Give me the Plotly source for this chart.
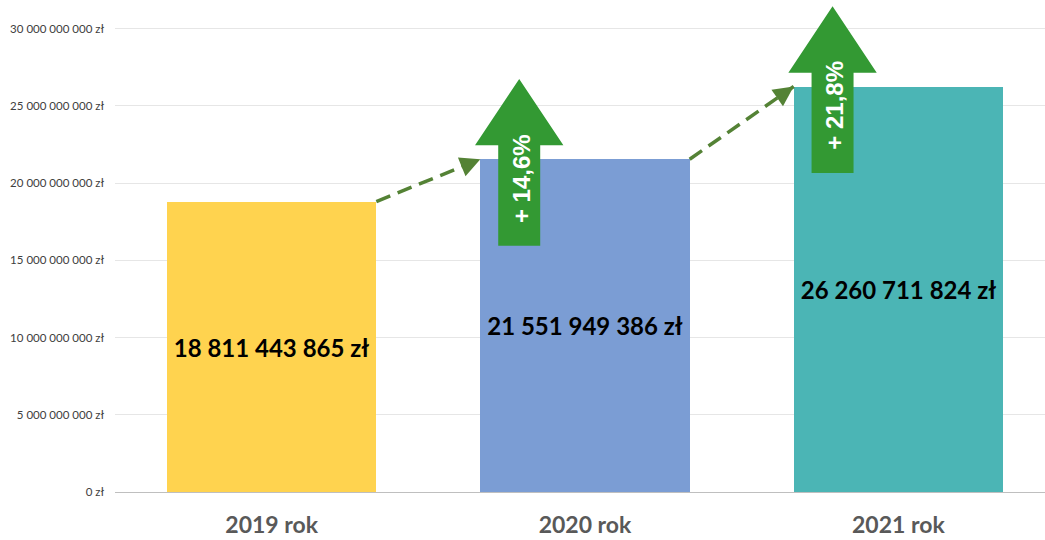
import plotly.graph_objects as go

# ---- data ----
categories = ["2019 rok", "2020 rok", "2021 rok"]
values = [18811443865, 21551949386, 26260711824]
growth_labels = ["+ 14,6%", "+ 21,8%"]
bar_colors = ["#FFD34F", "#7B9DD4", "#4BB5B5"]
y_tick_values = [0, 5e9, 10e9, 15e9, 20e9, 25e9, 30e9]

# ---- style ----
BAR_W = 0.668
ARROW_GREEN = "#339933"
DASH_GREEN = "#548235"
B = 1e9


def fmt(v):
    return f"{int(v):,}".replace(",", " ") + " zł"


xpos = list(range(len(categories)))

fig = go.Figure()
fig.add_trace(go.Bar(
    x=xpos, y=values, width=BAR_W,
    marker=dict(color=bar_colors, line=dict(width=0)),
    text=[fmt(v) for v in values],
    textposition="inside", insidetextanchor="middle", textangle=0,
    constraintext="none",
    textfont=dict(family="Lato", size=24, color="#000000", weight="bold"),
    hoverinfo="skip",
))

shapes = []
annotations = []
for i in range(1, len(values)):
    # dashed connector from previous bar's top-right to this bar's top-left
    x0, y0 = xpos[i - 1] + BAR_W / 2, values[i - 1]
    x1, y1 = xpos[i] - BAR_W / 2, values[i]
    fig.add_trace(go.Scatter(
        x=[x0, x1], y=[y0, y1], mode="lines",
        line=dict(color=DASH_GREEN, width=3.5, dash="15px,8px"),
        hoverinfo="skip", showlegend=False,
    ))
    f = 0.86
    annotations.append(dict(
        x=x1, y=y1, xref="x", yref="y",
        ax=x0 + (x1 - x0) * f, ay=y0 + (y1 - y0) * f, axref="x", ayref="y",
        text="", showarrow=True, arrowhead=2, arrowsize=1.15, arrowwidth=3.5,
        arrowcolor=DASH_GREEN, standoff=0, startstandoff=0,
    ))
    # big green up-arrow with growth label
    cx = xpos[i] - 0.21
    v = values[i]
    tip = v + 5.2 * B
    base = v + 0.9 * B
    bottom = v - 5.6 * B
    hw, sw = 0.141, 0.067
    path = (f"M{cx - sw},{bottom} L{cx - sw},{base} L{cx - hw},{base} "
            f"L{cx},{tip} L{cx + hw},{base} L{cx + sw},{base} L{cx + sw},{bottom} Z")
    shapes.append(dict(type="path", xref="x", yref="y", path=path,
                       fillcolor=ARROW_GREEN, line=dict(width=0), layer="above"))
    annotations.append(dict(
        x=cx + 0.008, y=v - 1.24 * B, xref="x", yref="y", text=growth_labels[i - 1],
        showarrow=False, textangle=-90,
        font=dict(family="Liberation Sans", size=24, color="#FFFFFF", weight="bold"),
    ))

fig.update_layout(
    width=1045, height=540,
    margin=dict(l=115, r=0, t=1, b=48, autoexpand=False),
    paper_bgcolor="#FFFFFF", plot_bgcolor="#FFFFFF",
    showlegend=False,
    shapes=shapes, annotations=annotations,
    xaxis=dict(
        range=[-0.5, 2.468], tickvals=xpos, ticktext=categories,
        showgrid=False, zeroline=False, showline=True, linecolor="#BFBFBF", linewidth=1,
        ticks="", ticklabelstandoff=12, automargin=False,
        tickfont=dict(family="Lato", size=23, color="#595959", weight="bold"),
        fixedrange=True,
    ),
    yaxis=dict(
        range=[0, 31.8 * B], tickvals=y_tick_values, ticktext=[fmt(v) for v in y_tick_values],
        showgrid=True, gridcolor="#E6E6E6", gridwidth=1, zeroline=False,
        ticks="", ticklabelstandoff=10, automargin=False,
        tickfont=dict(family="Lato", size=11.5, color="#404040"),
        fixedrange=True,
    ),
    bargap=0,
)

fig.write_html(
    "out.html",
    config={"displayModeBar": False},
    post_script="document.body.style.margin='0';document.body.style.overflow='hidden';",
)
